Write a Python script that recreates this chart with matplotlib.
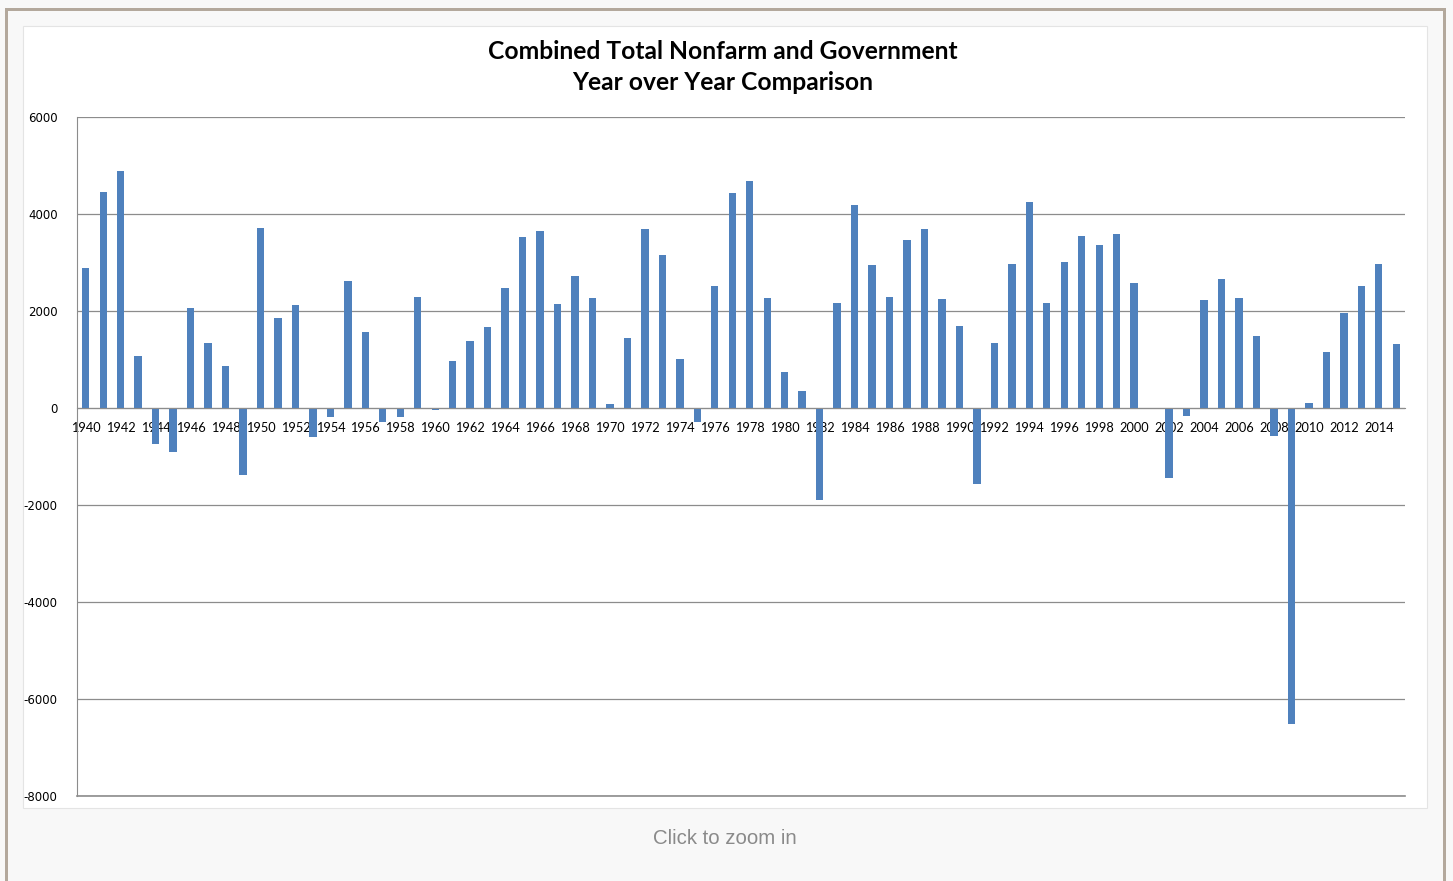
import matplotlib.pyplot as plt
from matplotlib.patches import Rectangle
import numpy as np

# year-over-year change, thousands of jobs
years = list(range(1940, 2016))
changes = [
    2880, 4450, 4880, 1080, -740, -900, 2060, 1350, 870, -1380,   # 1940s
    3720, 1860, 2130, -600, -190, 2620, 1560, -280, -190, 2290,   # 1950s
    -35, 970, 1380, 1680, 2470, 3520, 3650, 2150, 2720, 2270,     # 1960s
    80, 1440, 3700, 3150, 1020, -280, 2510, 4430, 4680, 2260,     # 1970s
    740, 350, -1890, 2170, 4180, 2950, 2290, 3470, 3700, 2240,    # 1980s
    1690, -1570, 1330, 2970, 4250, 2170, 3020, 3540, 3360, 3590,  # 1990s
    2580, 0, -1440, -165, 2220, 2670, 2270, 1490, -580, -6510,    # 2000s
    100, 1150, 1950, 2520, 2970, 1310,                            # 2010s
]
yticks = [-8000, -6000, -4000, -2000, 0, 2000, 4000, 6000]
title = "Combined Total Nonfarm and Government\nYear over Year Comparison"

W, H = 1453, 881
fig = plt.figure(figsize=(W / 100, H / 100), dpi=100)
fig.patch.set_facecolor("#f8f8f8")

# page frame and white chart area (kept behind the axes)
frame = "#b3a89c"
for (x0, y0, w, h) in [(5, 8, 3, 873), (1443, 8, 3, 873), (5, 8, 1441, 3)]:
    fig.add_artist(Rectangle((x0 / W, 1 - (y0 + h) / H), w / W, h / H,
                             transform=fig.transFigure, color=frame, lw=0, zorder=-2))
fig.add_artist(Rectangle((23 / W, 1 - 808 / H), 1404 / W, 782 / H, transform=fig.transFigure,
                         facecolor="white", edgecolor="#e4e4e4", lw=0.8, zorder=-1))

ax = fig.add_axes([77 / W, 1 - 796 / H, 1328 / W, 679 / H])
ax.set_facecolor("white")

x = np.arange(len(years))
ax.bar(x, changes, width=0.42, color="#4f81bd", zorder=3)

ax.set_xlim(-0.5, len(years) - 0.5)
ax.set_ylim(-8000, 6000)
ax.tick_params(axis="y", length=0, pad=14, labelsize=8.5, labelfontfamily="DejaVu Sans")
ax.tick_params(axis="x", length=0, pad=10, labelsize=9.2, labelfontfamily="Lato")
ax.set_yticks(yticks)
ax.set_yticklabels([str(v) for v in yticks])
ax.yaxis.grid(True, color="#8c8c8c", lw=0.9, zorder=0)
ax.axhline(-8000, color="#8c8c8c", lw=1.2, clip_on=False, zorder=1)

ax.set_xticks(x[::2])
ax.set_xticklabels([str(y) for y in years[::2]])

for side in ["top", "right"]:
    ax.spines[side].set_visible(False)
ax.spines["left"].set_color("#8c8c8c")
ax.spines["bottom"].set_position(("data", 0))
ax.spines["bottom"].set_color("#8c8c8c")
ax.spines["bottom"].set_zorder(4)
for lbl in ax.get_xticklabels():
    lbl.set_zorder(5)

fig.text(723 / W, 1 - 67 / H, title, ha="center", va="center", fontsize=17.7,
         fontweight="bold", family="Lato", linespacing=1.42)
fig.text(725 / W, 1 - 838 / H, "Click to zoom in", ha="center", va="center",
         fontsize=14.7, color="#8a8a8a", family="Liberation Sans")

fig.savefig("out.png", dpi=100, facecolor=fig.get_facecolor())
